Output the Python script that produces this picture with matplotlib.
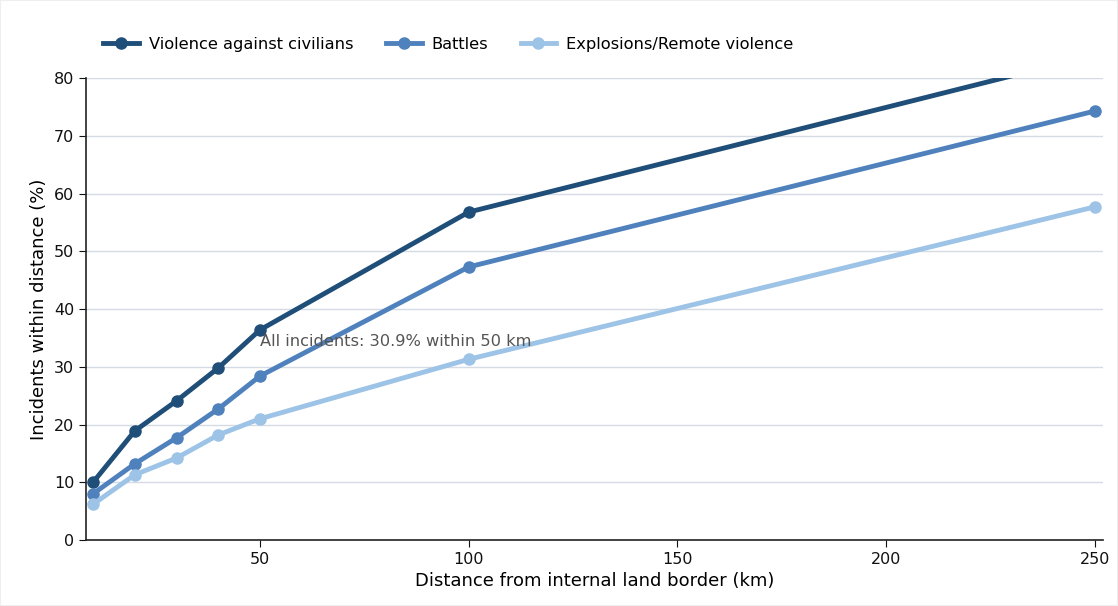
import matplotlib
matplotlib.use("Agg")
import matplotlib.pyplot as plt

distance_km = [10, 20, 30, 40, 50, 100, 250]
violence_civilians = [10.0, 18.9, 24.1, 29.8, 36.4, 56.8, 84.0]
battles = [8.0, 13.2, 17.7, 22.7, 28.4, 47.3, 74.3]
explosions = [6.2, 11.3, 14.2, 18.2, 21.0, 31.3, 57.7]
series_names = ["Violence against civilians", "Battles", "Explosions/Remote violence"]
colors = ["#1f4e79", "#4f81bd", "#9dc3e6"]
x_ticks = [50, 100, 150, 200, 250]
y_ticks = [0, 10, 20, 30, 40, 50, 60, 70, 80]
annotation = "All incidents: 30.9% within 50 km"

fig = plt.figure(figsize=(11.18, 6.06), dpi=100)
ax = fig.add_axes([0.0769, 0.1089, 0.9097, 0.7621])

for vals, name, c in zip([violence_civilians, battles, explosions], series_names, colors):
    ax.plot(distance_km, vals, color=c, lw=3.5, marker="o", markersize=8, label=name, zorder=3)

ax.set_xlim(8.3, 252)
ax.set_ylim(0, 80)
ax.set_xticks(x_ticks)
ax.set_yticks(y_ticks)
ax.tick_params(labelsize=11.5, colors="#111111", length=5)
ax.grid(axis="y", color="#d5dbe5", lw=1.0, zorder=0)
ax.set_axisbelow(True)
for s in ["top", "right"]:
    ax.spines[s].set_visible(False)
for s in ["left", "bottom"]:
    ax.spines[s].set_color("#222222")
    ax.spines[s].set_linewidth(1.2)

ax.set_xlabel("Distance from internal land border (km)", fontsize=13)
ax.set_ylabel("Incidents within distance (%)", fontsize=13)

ax.text(50, 34.3, annotation, fontsize=11.7, color="#555555", va="center", ha="left", zorder=4)

fig.legend(loc="center", bbox_to_anchor=(0.401, 0.927), ncol=3, frameon=False,
           fontsize=11.7, handlelength=2.2, columnspacing=2.0, handletextpad=0.6)

fig.patches.append(plt.Rectangle((0, 0), 1, 1, transform=fig.transFigure,
                                 fill=False, edgecolor="#eeeeee", lw=1.5))

fig.savefig("out.png", dpi=100)
